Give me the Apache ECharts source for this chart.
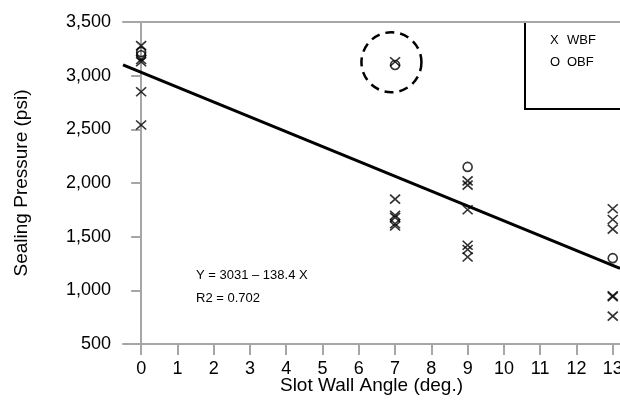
<!DOCTYPE html>
<html>
<head>
<meta charset="utf-8">
<script src="https://cdn.jsdelivr.net/npm/echarts@6/dist/echarts.min.js"></script>
<style>
  html, body { margin: 0; padding: 0; background: #fff; }
  #chart { width: 620px; height: 400px; }
</style>
</head>
<body>
<div id="chart"></div>
<script>
// Slot wall angle (deg.) vs sealing pressure (psi)
const xTicks = [0, 1, 2, 3, 4, 5, 6, 7, 8, 9, 10, 11, 12, 13];
const wbfAngle = [0, 0, 0, 0, 0, 7, 7, 7, 7, 7, 7, 9, 9, 9, 9, 9, 9, 13, 13, 13, 13, 13, 13];
const wbfPressure = [3280, 3150, 3130, 2850, 2540, 3130, 1850, 1700, 1680, 1620, 1600, 2020, 1980, 1750, 1420, 1380, 1310, 1760, 1660, 1570, 950, 940, 760];
const obfAngle = [0, 0, 7, 9, 13];
const obfPressure = [3220, 3190, 3100, 2150, 1300];
// Least-squares fit: Y = 3031 - 138.4 X, R2 = 0.702
const fitCoef = [3031, -138.4];
const fitRange = [-0.5, 13.2];
const fitR2 = '0.702';
// Dashed ring drawn around the outlying 7-degree pair
const ringCenter = [6.9, 3125];

const font = "'Liberation Sans', Arial, sans-serif";
const crossPath = 'path://M0,0L10,10M10,0L0,10';

const wbf = wbfAngle.map((a, i) => [a, wbfPressure[i]]);
const obf = obfAngle.map((a, i) => [a, obfPressure[i]]);
const fit = fitRange.map(x => [x, fitCoef[0] + fitCoef[1] * x]);

const chart = echarts.init(document.getElementById('chart'), null, { renderer: 'canvas' });

const axisGray = '#a6a6a6';

chart.setOption({
  animation: false,
  backgroundColor: '#fff',
  grid: { left: 123, right: 0, top: 22, bottom: 56, containLabel: false, outerBoundsMode: 'none' },
  xAxis: [{
    type: 'value',
    min: fitRange[0],
    max: fitRange[1],
    name: 'Slot Wall Angle (deg.)',
    nameLocation: 'middle',
    nameGap: 32,
    nameMoveOverlap: false,
    nameTextStyle: { fontFamily: font, fontSize: 19, color: '#000' },
    axisLine: { lineStyle: { color: axisGray, width: 2 } },
    axisTick: { customValues: xTicks, length: 11, lineStyle: { color: axisGray, width: 2 } },
    axisLabel: { customValues: xTicks, fontFamily: font, fontSize: 18, color: '#000', margin: 16 },
    splitLine: { show: false }
  }, {
    type: 'value',
    position: 'top',
    min: fitRange[0],
    max: fitRange[1],
    axisLine: { show: true, lineStyle: { color: axisGray, width: 2 } },
    axisTick: { show: false },
    axisLabel: { show: false },
    splitLine: { show: false }
  }],
  yAxis: {
    type: 'value',
    min: 500,
    max: 3500,
    interval: 500,
    name: 'Sealing Pressure (psi)',
    nameLocation: 'middle',
    nameGap: 92,
    nameMoveOverlap: false,
    nameTextStyle: { fontFamily: font, fontSize: 19, color: '#000' },
    axisLine: { show: true, lineStyle: { color: axisGray, width: 2 } },
    axisTick: { show: true, length: 10, lineStyle: { color: axisGray, width: 2 } },
    axisLabel: {
      fontFamily: font, fontSize: 18, color: '#000', margin: 12,
      formatter: v => v.toLocaleString('en-US')
    },
    splitLine: { show: false }
  },
  series: [
    {
      name: 'Fit',
      type: 'line',
      data: fit,
      symbol: 'none',
      lineStyle: { color: '#000', width: 3 },
      z: 2
    },
    {
      name: 'WBF',
      type: 'scatter',
      data: wbf,
      symbol: crossPath,
      symbolSize: [10, 9],
      itemStyle: { color: 'transparent', borderColor: '#000', borderWidth: 1.6 },
      z: 3
    },
    {
      name: 'OBF',
      type: 'scatter',
      data: obf,
      symbol: 'circle',
      symbolSize: 9,
      itemStyle: { color: 'transparent', borderColor: '#000', borderWidth: 1.6 },
      z: 3
    }
  ]
});

const ringPx = chart.convertToPixel({ gridIndex: 0 }, ringCenter);

chart.setOption({
  graphic: [
    {
      type: 'circle',
      shape: { cx: ringPx[0], cy: ringPx[1], r: 30 },
      style: { fill: 'none', stroke: '#000', lineWidth: 2.5, lineDash: [9, 6] },
      z: 10
    },
    {
      type: 'text',
      x: 196, y: 275,
      style: {
        text: 'Y = ' + fitCoef[0] + ' \u2013 ' + Math.abs(fitCoef[1]) + ' X',
        font: '13px ' + font, fill: '#000', textVerticalAlign: 'middle'
      },
      z: 10
    },
    {
      type: 'text',
      x: 196, y: 298,
      style: { text: 'R2 = ' + fitR2, font: '13px ' + font, fill: '#000', textVerticalAlign: 'middle' },
      z: 10
    },
    {
      type: 'group',
      x: 525, y: 22,
      z: 20,
      children: [
        { type: 'rect', shape: { x: 0, y: 0, width: 110, height: 87 },
          style: { fill: '#fff', stroke: '#000', lineWidth: 2 } },
        { type: 'text', x: 25, y: 18, style: { text: 'X', font: '13px ' + font, fill: '#000', textVerticalAlign: 'middle' } },
        { type: 'text', x: 42, y: 18, style: { text: 'WBF', font: '13px ' + font, fill: '#000', textVerticalAlign: 'middle' } },
        { type: 'text', x: 25, y: 40, style: { text: 'O', font: '13px ' + font, fill: '#000', textVerticalAlign: 'middle' } },
        { type: 'text', x: 42, y: 40, style: { text: 'OBF', font: '13px ' + font, fill: '#000', textVerticalAlign: 'middle' } }
      ]
    }
  ]
});
</script>
</body>
</html>
